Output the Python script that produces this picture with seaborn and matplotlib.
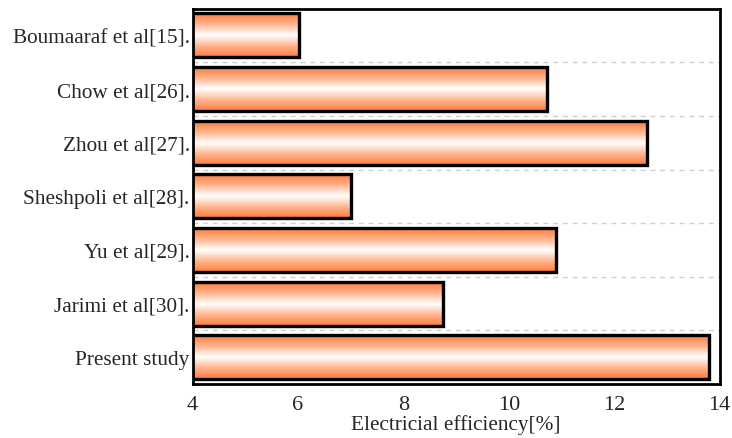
import matplotlib
matplotlib.use("Agg")
import matplotlib.pyplot as plt
import numpy as np
import pandas as pd
import seaborn as sns
from matplotlib.colors import LinearSegmentedColormap

studies = [
    "Boumaaraf et al[15].",
    "Chow et al[26].",
    "Zhou et al[27].",
    "Sheshpoli et al[28].",
    "Yu et al[29].",
    "Jarimi et al[30].",
    "Present study",
]
efficiency = [6.02, 10.72, 12.63, 7.0, 10.9, 8.75, 13.8]
x_ticks = [4, 6, 8, 10, 12, 14]

df = pd.DataFrame({"study": studies, "eff": efficiency})

sns.set_theme(style="white")
plt.rcParams["font.family"] = ["Liberation Serif", "DejaVu Serif"]

fig, ax = plt.subplots(figsize=(7.32, 4.39), dpi=100)
fig.subplots_adjust(left=0.263, right=0.983, top=0.978, bottom=0.123)

sns.barplot(data=df, x="eff", y="study", orient="h", ax=ax, width=0.82,
            color="white", edgecolor="black", linewidth=2.4, zorder=3)

# gradient fill: orange at the edges, white in the middle
cmap = LinearSegmentedColormap.from_list("bar", ["#ff7a3a", "#ffb58f", "#ffffff", "#ffb58f", "#ff7a3a"])
grad = np.linspace(0, 1, 256).reshape(-1, 1)
for patch in ax.patches:
    x0, y0 = patch.get_x(), patch.get_y()
    w, h = patch.get_width(), patch.get_height()
    patch.set_facecolor("none")
    im = ax.imshow(grad, cmap=cmap, aspect="auto", extent=(4, x0 + w, y0 + h, y0),
                   origin="upper", zorder=2.5, interpolation="bilinear")
    im.set_clip_path(patch)
ax.set_xlim(4, 14)
ax.set_ylim(6.5, -0.5)

for yb in np.arange(0.5, len(studies) - 0.5, 1):
    ax.axhline(yb, color="#cfcfcf", linestyle=(0, (3.5, 3.5)), linewidth=1.0, zorder=1)

ax.set_xticks(x_ticks)
ax.set_xticklabels([str(t) for t in x_ticks])
ax.tick_params(axis="x", direction="in", length=5, width=1.5, labelsize=16, pad=8)
ax.tick_params(axis="y", length=0, labelsize=15.3, pad=2)
ax.set_xlabel("Electricial efficiency[%]", fontsize=15.3, labelpad=0)
ax.set_ylabel("")
for s in ax.spines.values():
    s.set_visible(True)
    s.set_color("black")
    s.set_linewidth(2.0)

fig.savefig("out.png", dpi=100)
